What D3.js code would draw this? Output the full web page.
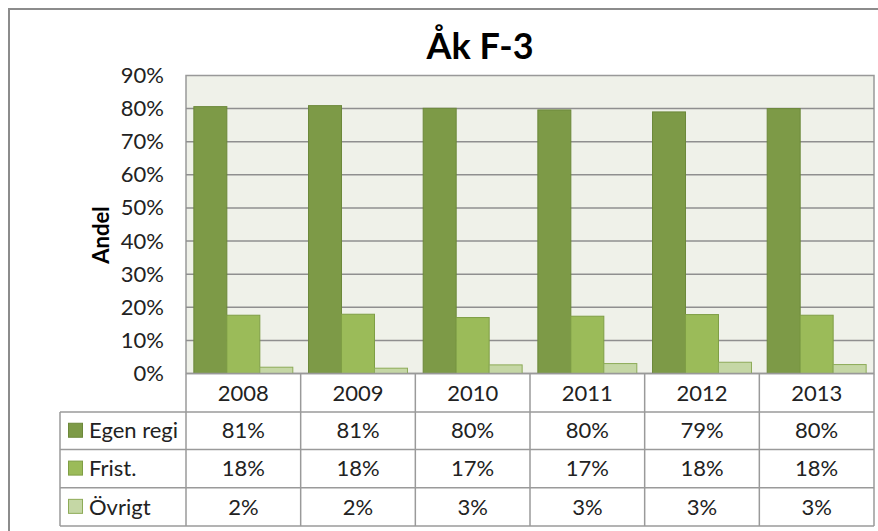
<!DOCTYPE html>
<html>
<head>
<meta charset="utf-8">
<script src="https://cdn.jsdelivr.net/npm/d3@7"></script>
<style>
  body { margin: 0; background: #fff; }
  svg { display: block; font-family: Lato, "Open Sans", sans-serif; }
</style>
</head>
<body>
<div id="chart"></div>
<script>
// chart data
var years = ["2008", "2009", "2010", "2011", "2012", "2013"];
var seriesNames = ["Egen regi", "Frist.", "Övrigt"];
var egenRegi = [80.6, 80.9, 80.1, 79.6, 79.0, 80.0];
var frist = [17.6, 17.9, 16.9, 17.3, 17.8, 17.6];
var ovrigt = [1.9, 1.6, 2.6, 3.0, 3.4, 2.7];
var yTicks = [0, 10, 20, 30, 40, 50, 60, 70, 80, 90];

var seriesValues = [egenRegi, frist, ovrigt];
var fills = ["#7d9a47", "#9bbb59", "#c5d7a5"];
var strokes = ["#6c883a", "#7f9e45", "#8dab58"];

var width = 878, height = 531;

var svg = d3.select("#chart")
  .append("svg")
  .attr("width", width)
  .attr("height", height);

// outer chart frame (runs off the right and bottom of the picture)
svg.append("rect")
  .attr("x", 9).attr("y", 9)
  .attr("width", 900).attr("height", 560)
  .attr("fill", "#fff")
  .attr("stroke", "#8c8c8c")
  .attr("stroke-width", 2);

var plot = { left: 186, right: 874, top: 75.5, bottom: 373.5 };

var x0 = d3.scaleBand()
  .domain(years)
  .range([plot.left, plot.right])
  .padding(0);

var x1 = d3.scaleBand()
  .domain(d3.range(seriesNames.length))
  .range([0, x0.bandwidth()])
  .paddingInner(0)
  .paddingOuter(0.238);

var y = d3.scaleLinear()
  .domain([0, 90])
  .range([plot.bottom, plot.top]);

// plot background
svg.append("rect")
  .attr("x", plot.left).attr("y", plot.top)
  .attr("width", plot.right - plot.left)
  .attr("height", plot.bottom - plot.top)
  .attr("fill", "#eff1e9")
  .attr("stroke", "#999")
  .attr("stroke-width", 1.5);

// gridlines
svg.append("g")
  .selectAll("line")
  .data(yTicks.filter(function (d) { return d > 0 && d < 90; }))
  .enter()
  .append("line")
  .attr("x1", plot.left).attr("x2", plot.right)
  .attr("y1", function (d) { return y(d); })
  .attr("y2", function (d) { return y(d); })
  .attr("stroke", "#8f8f8f")
  .attr("stroke-width", 1.5);

// y axis labels
var yAxis = svg.append("g")
  .attr("transform", "translate(" + plot.left + ",0)")
  .call(d3.axisLeft(y)
    .tickValues(yTicks)
    .tickSize(0)
    .tickPadding(22)
    .tickFormat(function (d) { return d + "%"; }));
yAxis.select(".domain").remove();
yAxis.selectAll("text")
  .attr("font-family", "Lato, sans-serif")
  .attr("font-size", 22)
  .attr("fill", "#222");

// bars
var groups = svg.append("g")
  .selectAll("g")
  .data(years)
  .enter()
  .append("g")
  .attr("transform", function (d) { return "translate(" + x0(d) + ",0)"; });

groups.selectAll("rect")
  .data(function (d, i) {
    return seriesValues.map(function (vals, s) { return { s: s, v: vals[i] }; });
  })
  .enter()
  .append("rect")
  .attr("x", function (d) { return x1(d.s); })
  .attr("y", function (d) { return y(d.v); })
  .attr("width", x1.bandwidth())
  .attr("height", function (d) { return y(0) - y(d.v); })
  .attr("fill", function (d) { return fills[d.s]; })
  .attr("stroke", function (d) { return strokes[d.s]; })
  .attr("stroke-width", 1);

// axis baseline
svg.append("line")
  .attr("x1", plot.left).attr("x2", plot.right)
  .attr("y1", plot.bottom).attr("y2", plot.bottom)
  .attr("stroke", "#999").attr("stroke-width", 1.5);

// title
svg.append("text")
  .attr("x", 480).attr("y", 59)
  .attr("text-anchor", "middle")
  .attr("font-family", "Lato, sans-serif")
  .attr("font-weight", "bold")
  .attr("font-size", 36)
  .attr("fill", "#000")
  .text("Åk F-3");

// y axis title
svg.append("text")
  .attr("transform", "translate(109,235) rotate(-90)")
  .attr("text-anchor", "middle")
  .attr("font-family", "Lato, sans-serif")
  .attr("font-weight", "bold")
  .attr("font-size", 22)
  .attr("fill", "#000")
  .text("Andel");

/* ---------------------------- data table ---------------------------- */
var tableLeft = 60, tableRight = 874;
var rowY = [374, 412, 449.5, 487.7, 526];
var lineColor = "#9a9a9a";
var table = svg.append("g");

// horizontal lines
table.append("line")
  .attr("x1", tableLeft).attr("x2", tableRight)
  .attr("y1", rowY[1]).attr("y2", rowY[1]);
table.append("line")
  .attr("x1", tableLeft).attr("x2", tableRight)
  .attr("y1", rowY[2]).attr("y2", rowY[2]);
table.append("line")
  .attr("x1", tableLeft).attr("x2", tableRight)
  .attr("y1", rowY[3]).attr("y2", rowY[3]);
table.append("line")
  .attr("x1", tableLeft).attr("x2", tableRight)
  .attr("y1", rowY[4]).attr("y2", rowY[4]);

// vertical lines
table.append("line")
  .attr("x1", tableLeft).attr("x2", tableLeft)
  .attr("y1", rowY[1]).attr("y2", rowY[4]);
table.selectAll(".vline")
  .data(years)
  .enter()
  .append("line")
  .attr("class", "vline")
  .attr("x1", function (d) { return x0(d); })
  .attr("x2", function (d) { return x0(d); })
  .attr("y1", rowY[0]).attr("y2", rowY[4]);
table.append("line")
  .attr("x1", tableRight).attr("x2", tableRight)
  .attr("y1", rowY[0]).attr("y2", rowY[4]);

table.selectAll("line")
  .attr("stroke", lineColor)
  .attr("stroke-width", 1.5);

// header years
table.selectAll(".year")
  .data(years)
  .enter()
  .append("text")
  .attr("class", "year")
  .attr("x", function (d) { return x0(d) + x0.bandwidth() / 2; })
  .attr("y", (rowY[0] + rowY[1]) / 2)
  .attr("dy", "0.35em")
  .attr("text-anchor", "middle")
  .text(function (d) { return d; });

// series rows
seriesNames.forEach(function (name, s) {
  var cy = (rowY[s + 1] + rowY[s + 2]) / 2;
  table.append("rect")
    .attr("x", 68.5).attr("y", cy - 7.5)
    .attr("width", 14).attr("height", 14)
    .attr("fill", fills[s])
    .attr("stroke", strokes[s]);
  table.append("text")
    .attr("x", 89)
    .attr("y", cy)
    .attr("dy", "0.35em")
    .text(name);
  table.selectAll(".v" + s)
    .data(seriesValues[s])
    .enter()
    .append("text")
    .attr("class", "v" + s)
    .attr("x", function (d, i) { return x0(years[i]) + x0.bandwidth() / 2; })
    .attr("y", cy)
    .attr("dy", "0.35em")
    .attr("text-anchor", "middle")
    .text(function (d) { return Math.round(d) + "%"; });
});

table.selectAll("text")
  .attr("font-family", "Lato, sans-serif")
  .attr("font-size", 22)
  .attr("fill", "#222");
</script>
</body>
</html>
